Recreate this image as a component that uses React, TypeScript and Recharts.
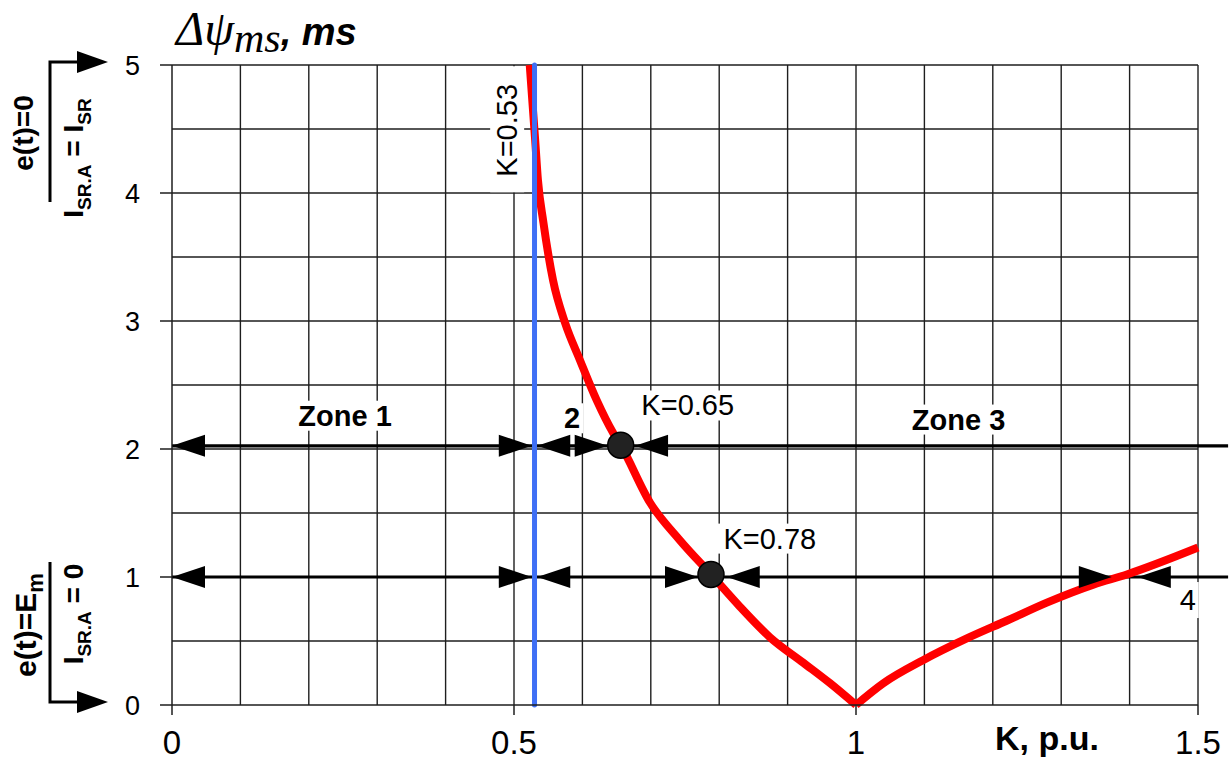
import React from "react";
import {
  ComposedChart,
  Line,
  XAxis,
  YAxis,
  ReferenceLine,
  ReferenceDot,
} from "recharts";

// curve Δψ(K)
const CURVE_K = [
  0.523, 0.531, 0.535, 0.543, 0.557, 0.575, 0.596, 0.621, 0.645, 0.656, 0.699,
  0.742, 0.788, 0.83, 0.874, 0.923, 0.962, 1.0, 1.04, 1.098, 1.162, 1.221,
  1.279, 1.347, 1.396, 1.5,
];
const CURVE_PSI = [
  5.0, 4.41, 4.1, 3.77, 3.32, 2.98, 2.7, 2.38, 2.125, 2.03, 1.58, 1.29, 1.02,
  0.77, 0.53, 0.33, 0.17, 0.0, 0.17, 0.35, 0.52, 0.66, 0.8, 0.94, 1.02, 1.23,
];
const K_MIN = 1.0; // sharp minimum of the curve

const X_TICKS = [0, 0.5, 1, 1.5];
const Y_TICKS = [0, 1, 2, 3, 4, 5];
const GRID_X = [0.1, 0.2, 0.3, 0.4, 0.5, 0.6, 0.7, 0.8, 0.9, 1.0, 1.1, 1.2, 1.3, 1.4, 1.5];
const GRID_Y = [0.5, 1, 1.5, 2, 2.5, 3, 3.5, 4, 4.5, 5];

const K_BOUNDARY = 0.53;

// horizontal zone lines (level, end K) and arrow tips on them
const ZONE_LINES = [
  { y: 2.025, from: 0, to: 1.544 },
  { y: 1, from: 0, to: 1.544 },
];
const ARROWS_2 = [
  { k: 0, dir: "left" },
  { k: 0.526, dir: "right" },
  { k: 0.534, dir: "left" },
  { k: 0.637, dir: "right" },
  { k: 0.677, dir: "left" },
];
const ARROWS_1 = [
  { k: 0, dir: "left" },
  { k: 0.526, dir: "right" },
  { k: 0.534, dir: "left" },
  { k: 0.769, dir: "right" },
  { k: 0.811, dir: "left" },
  { k: 1.374, dir: "right" },
  { k: 1.412, dir: "left" },
];
const MARKED_POINTS = [
  { k: 0.656, y: 2.03 },
  { k: 0.788, y: 1.02 },
];

const LABELS = [
  { k: 0.253, y: 2.26, text: "Zone 1", bold: true, w: 104, h: 30 },
  { k: 0.585, y: 2.24, text: "2", bold: true, w: 22, h: 30 },
  { k: 0.754, y: 2.34, text: "K=0.65", bold: false, w: 104, h: 30 },
  { k: 1.15, y: 2.23, text: "Zone 3", bold: true, w: 104, h: 30 },
  { k: 0.874, y: 1.3, text: "K=0.78", bold: false, w: 104, h: 30 },
  { k: 1.485, y: 0.82, text: "4", bold: false, w: 22, h: 36 },
];
const ROT_LABEL = { k: 0.49, y: 4.49, text: "K=0.53" };

const curveData = CURVE_K.map((k, i) => ({ k, psi: CURVE_PSI[i] }));
const leftBranch = curveData.filter((d) => d.k <= K_MIN);
const rightBranch = curveData.filter((d) => d.k >= K_MIN);

const FONT = "'Liberation Sans', Arial, sans-serif";
const GRID_COLOR = "#1e1e1e";

const arrowShape = (dir: string) => (p: any) => {
  const { cx, cy } = p;
  const w = 33;
  const h = 11;
  const pts =
    dir === "left"
      ? `${cx},${cy} ${cx + w},${cy - h} ${cx + w},${cy + h}`
      : `${cx},${cy} ${cx - w},${cy - h} ${cx - w},${cy + h}`;
  return <polygon points={pts} fill="#000" />;
};

const labelShape = (l: any) => (p: any) => {
  const { cx, cy } = p;
  return (
    <g>
      <rect x={cx - l.w / 2} y={cy - l.h / 2} width={l.w} height={l.h} fill="#fff" />
      <text
        x={cx}
        y={cy + 10}
        textAnchor="middle"
        fontFamily={FONT}
        fontSize={29}
        fontWeight={l.bold ? "bold" : "normal"}
        fill="#000"
      >
        {l.text}
      </text>
    </g>
  );
};

const rotLabelShape = (p: any) => {
  const { cx, cy } = p;
  return (
    <g>
      <rect x={cx - 17} y={cy - 64} width={34} height={126} fill="#fff" />
      <text
        x={cx + 10}
        y={cy}
        transform={`rotate(-90 ${cx + 10} ${cy})`}
        textAnchor="middle"
        fontFamily={FONT}
        fontSize={29}
        fill="#000"
      >
        {ROT_LABEL.text}
      </text>
    </g>
  );
};

export default function App() {
  return (
    <div
      style={{
        position: "absolute",
        left: 0,
        top: 0,
        width: 1230,
        height: 762,
        background: "#fff",
      }}
    >
      <ComposedChart
        width={1230}
        height={762}
        margin={{ top: 65, right: 32, bottom: 0, left: 0 }}
      >
        <XAxis
          type="number"
          dataKey="k"
          domain={[0, 1.5]}
          ticks={X_TICKS}
          interval={0}
          height={57}
          tickSize={10}
          tickMargin={16}
          axisLine={{ stroke: GRID_COLOR, strokeWidth: 1.5 }}
          tickLine={{ stroke: GRID_COLOR, strokeWidth: 1.5 }}
          tick={{ fill: "#000", fontSize: 33, fontFamily: FONT }}
        />
        <YAxis
          type="number"
          domain={[0, 5]}
          ticks={Y_TICKS}
          interval={0}
          width={172}
          tickSize={12}
          tickMargin={20}
          axisLine={{ stroke: GRID_COLOR, strokeWidth: 1.5 }}
          tickLine={{ stroke: GRID_COLOR, strokeWidth: 1.5 }}
          tick={{ fill: "#000", fontSize: 27, fontFamily: FONT }}
        />

        {GRID_X.map((v) => (
          <ReferenceLine key={`gx-${v}`} x={v} stroke={GRID_COLOR} strokeWidth={1.4} />
        ))}
        {GRID_Y.map((v) => (
          <ReferenceLine key={`gy-${v}`} y={v} stroke={GRID_COLOR} strokeWidth={1.4} />
        ))}

        {LABELS.map((l) => (
          <ReferenceDot key={l.text} x={l.k} y={l.y} r={1} shape={labelShape(l)} />
        ))}
        <ReferenceDot x={ROT_LABEL.k} y={ROT_LABEL.y} r={1} shape={rotLabelShape} />

        {ZONE_LINES.map((z) => (
          <ReferenceLine
            key={`zl-${z.y}`}
            segment={[
              { x: z.from, y: z.y },
              { x: z.to, y: z.y },
            ]}
            ifOverflow="visible"
            stroke="#000"
            strokeWidth={3.2}
          />
        ))}
        {ARROWS_2.map((a, i) => (
          <ReferenceDot key={`a2-${i}`} x={a.k} y={ZONE_LINES[0].y} r={1} shape={arrowShape(a.dir)} />
        ))}
        {ARROWS_1.map((a, i) => (
          <ReferenceDot key={`a1-${i}`} x={a.k} y={ZONE_LINES[1].y} r={1} shape={arrowShape(a.dir)} />
        ))}

        <Line
          data={leftBranch}
          dataKey="psi"
          type="monotone"
          stroke="#ff0000"
          strokeWidth={8}
          strokeLinejoin="round"
          dot={false}
          activeDot={false}
          isAnimationActive={false}
        />
        <Line
          data={rightBranch}
          dataKey="psi"
          type="monotone"
          stroke="#ff0000"
          strokeWidth={8}
          strokeLinejoin="round"
          dot={false}
          activeDot={false}
          isAnimationActive={false}
        />
        <ReferenceLine
          x={K_BOUNDARY}
          stroke="#3f6ff5"
          strokeWidth={5}
          strokeLinecap="round"
        />

        {MARKED_POINTS.map((m, i) => (
          <ReferenceDot
            key={`m-${i}`}
            x={m.k}
            y={m.y}
            r={13}
            fill="#222"
            stroke="#000"
            strokeWidth={1.5}
          />
        ))}
      </ComposedChart>

      <svg
        width={1230}
        height={762}
        style={{ position: "absolute", left: 0, top: 0, pointerEvents: "none" }}
      >
        <text x={176} y={45} fontFamily="'Liberation Serif', serif" fontStyle="italic" fontSize={48} fill="#000">
          Δψ
          <tspan fontSize={42} dy={7}>ms</tspan>
          <tspan dy={-7} fontFamily={FONT} fontWeight="bold" fontSize={38}>, ms</tspan>
        </text>
        <text x={995} y={750} fontFamily={FONT} fontWeight="bold" fontSize={34} fill="#000">
          K, p.u.
        </text>

        {/* upper left annotation */}
        <path d="M50,202 V62 H80" fill="none" stroke="#000" strokeWidth={3} />
        <polygon points="77,51 108,62 77,73" fill="#000" />
        <text x={33} y={133} transform="rotate(-90 33 133)" textAnchor="middle" fontFamily={FONT} fontWeight="bold" fontSize={28}>
          e(t)=0
        </text>
        <text x={83} y={158} transform="rotate(-90 83 158)" textAnchor="middle" fontFamily={FONT} fontWeight="bold" fontSize={28}>
          I<tspan fontSize={19} dy={8}>SR.A</tspan>
          <tspan dy={-8}> = I</tspan>
          <tspan fontSize={19} dy={8}>SR</tspan>
        </text>

        {/* lower left annotation */}
        <path d="M50,562 V702 H80" fill="none" stroke="#000" strokeWidth={3} />
        <polygon points="77,691 108,702 77,713" fill="#000" />
        <text x={36} y={625} transform="rotate(-90 36 625)" textAnchor="middle" fontFamily={FONT} fontWeight="bold" fontSize={30}>
          e(t)=E<tspan fontSize={22} dy={7}>m</tspan>
        </text>
        <text x={83} y={614} transform="rotate(-90 83 614)" textAnchor="middle" fontFamily={FONT} fontWeight="bold" fontSize={28}>
          I<tspan fontSize={19} dy={8}>SR.A</tspan>
          <tspan dy={-8}> = 0</tspan>
        </text>
      </svg>
    </div>
  );
}
